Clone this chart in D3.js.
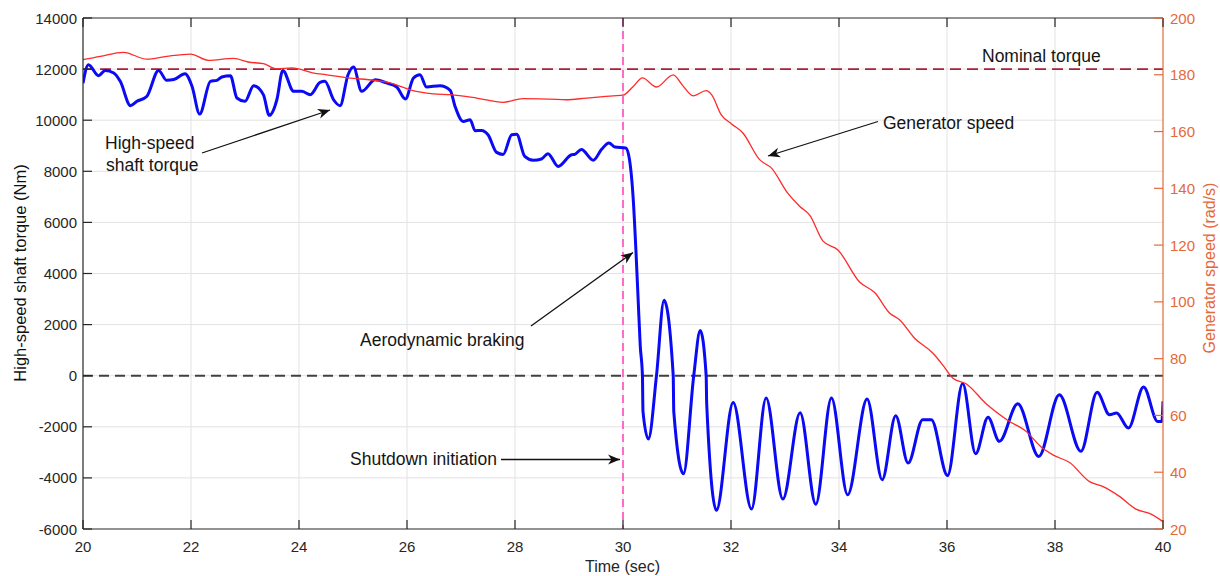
<!DOCTYPE html>
<html>
<head>
<meta charset="utf-8">
<script src="https://cdn.jsdelivr.net/npm/d3@7"></script>
<style>
  html, body { margin: 0; padding: 0; background: #fff; }
  svg { display: block; font-family: "Liberation Sans", Arial, sans-serif; }
</style>
</head>
<body>
<svg id="chart" width="1220" height="576"></svg>
<script>
// ---------- data ----------
const timeTicks = [20, 22, 24, 26, 28, 30, 32, 34, 36, 38, 40];
const torqueTicks = [-6000, -4000, -2000, 0, 2000, 4000, 6000, 8000, 10000, 12000, 14000];
const speedTicks = [20, 40, 60, 80, 100, 120, 140, 160, 180, 200];

const torqueTime = [20.00, 20.10, 20.29, 20.41, 20.57, 20.69, 20.88, 21.00, 21.18, 21.40, 21.55, 21.68, 21.89, 22.02, 22.16,
  22.36, 22.48, 22.57, 22.73, 22.85, 23.00, 23.16, 23.34, 23.45, 23.59, 23.70, 23.90, 24.05, 24.21, 24.39, 24.48, 24.64,
  24.76, 24.91, 25.01, 25.16, 25.41, 25.62, 25.81, 25.97, 26.12, 26.24, 26.36, 26.61, 26.80, 26.89, 27.04, 27.17, 27.26,
  27.38, 27.50, 27.66, 27.78, 27.94, 28.03, 28.18, 28.34, 28.49, 28.61, 28.80, 29.05, 29.10, 29.23, 29.45, 29.60, 29.74,
  29.85, 30.05, 30.11, 30.19, 30.24, 30.28, 30.32, 30.36, 30.37, 30.47, 30.62, 30.76, 30.93, 30.94, 31.12, 31.31, 31.43,
  31.54, 31.55, 31.73, 32.04, 32.38, 32.65, 32.96, 33.28, 33.57, 33.86, 34.16, 34.52, 34.80, 35.05, 35.28, 35.55, 35.71,
  36.01, 36.29, 36.53, 36.76, 36.97, 37.31, 37.70, 38.08, 38.48, 38.78, 39.01, 39.14, 39.36, 39.64, 39.90, 39.98, 40.00];
const torqueValues = [11450, 12170, 11740, 11950, 11850, 11520, 10570, 10740, 10930, 11950, 11560, 11590, 11820, 11320, 10240,
  11520, 11560, 11690, 11740, 10870, 10740, 11350, 11000, 10190, 10800, 11950, 11130, 11130, 11000, 11480, 11520, 10800,
  10570, 11790, 12080, 11130, 11580, 11460, 11300, 10830, 11650, 11780, 11300, 11350, 11170, 10540, 9950, 10020, 9590,
  9600, 9430, 8740, 8660, 9430, 9450, 8580, 8430, 8480, 8690, 8190, 8650, 8660, 8850, 8430, 8850, 9110,
  8950, 8910, 8580, 6890, 4870, 3000, 1150, 0, -1400, -2480, 0, 2950, 0, -1400, -3840, 0, 1770,
  0, -1100, -5270, -1050, -5220, -870, -4830, -1450, -5030, -870, -4660, -910, -4070, -1570, -3420, -1720, -1720,
  -3910, -310, -3050, -1630, -2570, -1100, -3160, -750, -2960, -650, -1530, -1460, -2050, -440, -1790, -1790, -1000];

const speedTime = [20.00, 20.32, 20.75, 21.18, 21.55, 21.99, 22.32, 22.79, 23.06, 23.34, 23.59, 23.87, 24.27, 24.51, 24.91,
  25.41, 25.75, 26.06, 26.49, 26.80, 27.29, 27.78, 28.15, 28.65, 28.95, 29.32, 29.82, 30.00, 30.19, 30.36, 30.62, 30.93,
  31.11, 31.30, 31.54, 31.64, 31.82, 32.01, 32.22, 32.53, 32.75, 33.05, 33.28, 33.46, 33.70, 33.98, 34.38, 34.66, 34.94,
  35.12, 35.40, 35.74, 35.92, 36.11, 36.36, 36.73, 37.13, 37.47, 37.75, 37.96, 38.27, 38.64, 38.89, 39.20, 39.51, 39.75, 40.00];
const speedValues = [185.3, 186.5, 187.9, 185.5, 186.5, 187.3, 185.1, 185.8, 184.5, 183.9, 182.1, 182.4, 180.6, 180.0, 178.9,
  178.0, 176.8, 174.7, 173.3, 173.0, 171.8, 170.3, 171.6, 171.4, 171.2, 171.8, 172.6, 172.8, 175.9, 178.9, 175.7, 180.0,
  176.1, 172.6, 174.4, 173.0, 165.9, 162.7, 159.5, 150.1, 147.1, 138.3, 133.5, 130.5, 121.5, 118.3, 107.0, 103.3, 96.0,
  93.7, 87.2, 81.9, 77.8, 73.1, 71.1, 64.0, 58.2, 54.3, 48.8, 46.1, 43.4, 36.7, 34.9, 31.4, 26.9, 25.5, 22.6];

const nominalTorque = 12000;
const shutdownTime = 30;

// ---------- layout ----------
const W = 1220, H = 576;
const L = 83, R = 1163, T = 18, B = 529;
const axisColor = "#262626";
const rightColor = "#e4693a";

const svg = d3.select("#chart");
const x = d3.scaleLinear().domain([20, 40]).range([L, R]);
const yL = d3.scaleLinear().domain([-6000, 14000]).range([B, T]);
const yR = d3.scaleLinear().domain([20, 200]).range([B, T]);

svg.append("defs").append("clipPath").attr("id", "plotclip")
  .append("rect").attr("x", L).attr("y", T).attr("width", R - L).attr("height", B - T);

const defs = svg.select("defs");
defs.append("marker").attr("id", "arrow")
  .attr("viewBox", "-12 -6 14 12").attr("refX", 0).attr("refY", 0)
  .attr("markerWidth", 14).attr("markerHeight", 12)
  .attr("markerUnits", "userSpaceOnUse").attr("orient", "auto")
  .append("path").attr("d", "M0,0 L-12,-5 L-8.5,0 L-12,5 Z").attr("fill", "#111");

// ---------- grid ----------
const grid = svg.append("g");
grid.selectAll(".gx").data(timeTicks.slice(1, -1)).join("line")
  .attr("x1", d => x(d)).attr("x2", d => x(d)).attr("y1", T).attr("y2", B)
  .attr("stroke", "#e2e2e2").attr("stroke-width", 1);
grid.selectAll(".gy").data(torqueTicks.slice(1, -1)).join("line")
  .attr("x1", L).attr("x2", R).attr("y1", d => yL(d)).attr("y2", d => yL(d))
  .attr("stroke", "#e2e2e2").attr("stroke-width", 1);

// ---------- reference lines ----------
const plot = svg.append("g").attr("clip-path", "url(#plotclip)");
plot.append("line").attr("x1", L).attr("x2", R).attr("y1", yL(0)).attr("y2", yL(0))
  .attr("stroke", "#404040").attr("stroke-width", 2).attr("stroke-dasharray", "10,6");
plot.append("line").attr("x1", L).attr("x2", R).attr("y1", yL(nominalTorque)).attr("y2", yL(nominalTorque))
  .attr("stroke", "#a8203a").attr("stroke-width", 1.8).attr("stroke-dasharray", "11,6");
plot.append("line").attr("x1", x(shutdownTime)).attr("x2", x(shutdownTime)).attr("y1", T).attr("y2", B)
  .attr("stroke", "#ff5cc6").attr("stroke-width", 1.8).attr("stroke-dasharray", "8,5");

// ---------- series ----------
const torqueData = torqueTime.map((t, i) => [t, torqueValues[i]]);
const speedData = speedTime.map((t, i) => [t, speedValues[i]]);

plot.append("path").datum(torqueData)
  .attr("d", d3.line().x(d => x(d[0])).y(d => yL(d[1])).curve(d3.curveMonotoneX))
  .attr("fill", "none").attr("stroke", "#0a0af5").attr("stroke-width", 3).attr("stroke-linejoin", "round");

plot.append("path").datum(speedData)
  .attr("d", d3.line().x(d => x(d[0])).y(d => yR(d[1])).curve(d3.curveMonotoneX))
  .attr("fill", "none").attr("stroke", "#ff2a2a").attr("stroke-width", 1.3);

// ---------- axes ----------
const tickLen = 9;
const axes = svg.append("g");
axes.append("line").attr("x1", L).attr("x2", R).attr("y1", T).attr("y2", T).attr("stroke", axisColor).attr("stroke-width", 1.2);
axes.append("line").attr("x1", L).attr("x2", R).attr("y1", B).attr("y2", B).attr("stroke", axisColor).attr("stroke-width", 1.2);
axes.append("line").attr("x1", L).attr("x2", L).attr("y1", T).attr("y2", B).attr("stroke", axisColor).attr("stroke-width", 1.2);
axes.append("line").attr("x1", R).attr("x2", R).attr("y1", T).attr("y2", B).attr("stroke", rightColor).attr("stroke-width", 1.2);

axes.selectAll(".tb").data(timeTicks).join("line")
  .attr("x1", d => x(d)).attr("x2", d => x(d)).attr("y1", B).attr("y2", B - tickLen)
  .attr("stroke", axisColor).attr("stroke-width", 1.2);
axes.selectAll(".tt").data(timeTicks).join("line")
  .attr("x1", d => x(d)).attr("x2", d => x(d)).attr("y1", T).attr("y2", T + tickLen)
  .attr("stroke", axisColor).attr("stroke-width", 1.2);
axes.selectAll(".lb").data(timeTicks).join("text")
  .attr("x", d => x(d)).attr("y", B + 23)
  .attr("text-anchor", "middle").attr("font-size", 15).attr("fill", axisColor)
  .text(d => d);

axes.selectAll(".tl").data(torqueTicks).join("line")
  .attr("x1", L).attr("x2", L + tickLen).attr("y1", d => yL(d)).attr("y2", d => yL(d))
  .attr("stroke", axisColor).attr("stroke-width", 1.2);
axes.selectAll(".ll").data(torqueTicks).join("text")
  .attr("x", L - 6).attr("y", d => yL(d) + 5.5)
  .attr("text-anchor", "end").attr("font-size", 15).attr("fill", axisColor)
  .text(d => d);

axes.selectAll(".tr").data(speedTicks).join("line")
  .attr("x1", R).attr("x2", R - tickLen).attr("y1", d => yR(d)).attr("y2", d => yR(d))
  .attr("stroke", rightColor).attr("stroke-width", 1.2);
axes.selectAll(".lr").data(speedTicks).join("text")
  .attr("x", R + 7).attr("y", d => yR(d) + 5.5)
  .attr("text-anchor", "start").attr("font-size", 15).attr("fill", rightColor)
  .text(d => d);

axes.append("text").attr("x", (L + R) / 2 - 0.5).attr("y", 572)
  .attr("text-anchor", "middle").attr("font-size", 16).attr("fill", axisColor).text("Time (sec)");
axes.append("text").attr("transform", "translate(26,273) rotate(-90)")
  .attr("text-anchor", "middle").attr("font-size", 16.5).attr("fill", "#111").text("High-speed shaft torque (Nm)");
axes.append("text").attr("transform", "translate(1215,268) rotate(-90)")
  .attr("text-anchor", "middle").attr("font-size", 16).attr("fill", rightColor).text("Generator speed (rad/s)");

// ---------- annotations ----------
const ann = svg.append("g").attr("font-size", 17.5).attr("fill", "#151515");
ann.append("text").attr("x", 105).attr("y", 149).text("High-speed");
ann.append("text").attr("x", 106).attr("y", 171).text("shaft torque");
ann.append("text").attr("x", 982).attr("y", 62).text("Nominal torque");
ann.append("text").attr("x", 883).attr("y", 129).text("Generator speed");
ann.append("text").attr("x", 360).attr("y", 346).text("Aerodynamic braking");
ann.append("text").attr("x", 350).attr("y", 465).text("Shutdown initiation");

const arrows = [
  [202, 153, 330, 110],
  [878, 121.5, 768, 156],
  [531, 326, 633, 252.5],
  [501, 459.5, 620, 459.5]
];
svg.append("g").selectAll("line").data(arrows).join("line")
  .attr("x1", d => d[0]).attr("y1", d => d[1]).attr("x2", d => d[2]).attr("y2", d => d[3])
  .attr("stroke", "#111").attr("stroke-width", 1.3).attr("marker-end", "url(#arrow)");
</script>
</body>
</html>
